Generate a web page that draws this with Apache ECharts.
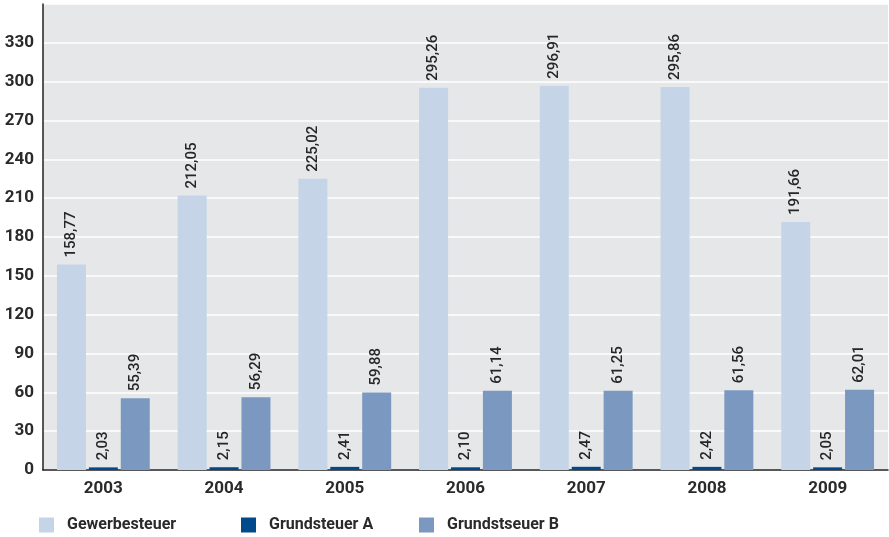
<!DOCTYPE html>
<html><head><meta charset="utf-8">
<script src="https://cdn.jsdelivr.net/npm/echarts@6/dist/echarts.min.js"></script>
<style>html,body{margin:0;padding:0;background:#fff}#c{width:889px;height:537px}</style>
</head><body><div id="c"></div>
<script>
const categories = ['2003','2004','2005','2006','2007','2008','2009'];
const gewerbesteuer = [158.77, 212.05, 225.02, 295.26, 296.91, 295.86, 191.66];
const grundsteuerA = [2.03, 2.15, 2.41, 2.10, 2.47, 2.42, 2.05];
const grundsteuerB = [55.39, 56.29, 59.88, 61.14, 61.25, 61.56, 62.01];
const seriesNames = ['Gewerbesteuer','Grundsteuer A','Grundstseuer B'];
const colors = ['#c5d5e7','#004a8c','#7b98c1'];
const FONT = 'Roboto';
const fmt = v => v.toFixed(2).replace('.', ',');
const chart = echarts.init(document.getElementById('c'));
const mk = (name, data, color) => ({
  name, type:'bar', data, barWidth:29, barGap:'10%',
  itemStyle:{color},
  label:{show:true, position:'top', rotate:90, align:'left', verticalAlign:'middle', distance:7,
    fontFamily:FONT, fontSize:15, fontWeight:500, color:'#262626',
    formatter:p=>fmt(p.value)}
});
const legendBase = {bottom:4, padding:0, itemWidth:15, itemHeight:15, icon:'rect',
  textStyle:{fontFamily:FONT, fontSize:16, fontWeight:'bold', color:'#2a2a2a', padding:[0,0,0,8]}};
chart.setOption({
  animation:false,
  color:colors,
  grid:{left:43, right:1, top:4, bottom:67, show:true, backgroundColor:'#e6e7e9', borderWidth:0},
  legend:[
    Object.assign({}, legendBase, {left:39, data:[seriesNames[0]]}),
    Object.assign({}, legendBase, {left:241, data:[seriesNames[1]]}),
    Object.assign({}, legendBase, {left:419, data:[seriesNames[2]]})
  ],
  xAxis:{type:'category', data:categories,
    axisLine:{lineStyle:{color:'#222', width:1.5}}, axisTick:{show:false},
    axisLabel:{fontFamily:FONT, fontSize:17, fontWeight:'bold', color:'#2a2a2a', margin:10}},
  yAxis:{type:'value', min:0, max:360, interval:30,
    axisLine:{show:true, lineStyle:{color:'#222', width:1.5}}, axisTick:{show:false},
    splitLine:{lineStyle:{color:'#ffffff', width:1.5}},
    axisLabel:{fontFamily:FONT, fontSize:17, fontWeight:'bold', color:'#2a2a2a', margin:9,
      formatter:v=> v===360 ? '' : String(v)}},
  series:[
    mk(seriesNames[0], gewerbesteuer, colors[0]),
    mk(seriesNames[1], grundsteuerA, colors[1]),
    mk(seriesNames[2], grundsteuerB, colors[2])
  ]
});
</script></body></html>
